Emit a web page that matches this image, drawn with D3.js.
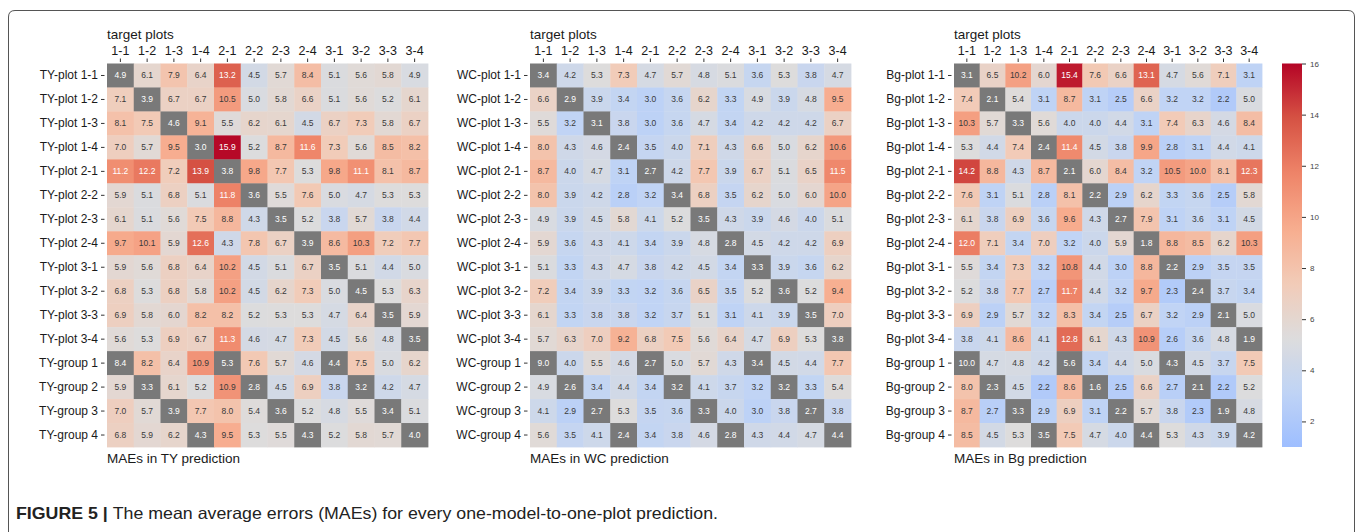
<!DOCTYPE html>
<html>
<head>
<meta charset="utf-8">
<script src="https://cdn.jsdelivr.net/npm/d3@7"></script>
<style>
  body { margin: 0; background: #fff; }
  svg { display: block; font-family: Arial, "Liberation Sans", Helvetica, sans-serif; }
</style>
</head>
<body>
<svg id="fig" width="1357" height="532"></svg>
<script>
// Target plots (columns) and prediction models (rows)
const targetPlots = ["1-1", "1-2", "1-3", "1-4", "2-1", "2-2", "2-3", "2-4", "3-1", "3-2", "3-3", "3-4"];
const sourceModels = ["plot 1-1", "plot 1-2", "plot 1-3", "plot 1-4", "plot 2-1", "plot 2-2", "plot 2-3", "plot 2-4",
                      "plot 3-1", "plot 3-2", "plot 3-3", "plot 3-4", "group 1", "group 2", "group 3", "group 4"];

// MAE of tree height (TY)
const tyMAE = [
  [4.9, 6.1, 7.9, 6.4, 13.2, 4.5, 5.7, 8.4, 5.1, 5.6, 5.8, 4.9],
  [7.1, 3.9, 6.7, 6.7, 10.5, 5.0, 5.8, 6.6, 5.1, 5.6, 5.2, 6.1],
  [8.1, 7.5, 4.6, 9.1, 5.5, 6.2, 6.1, 4.5, 6.7, 7.3, 5.8, 6.7],
  [7.0, 5.7, 9.5, 3.0, 15.9, 5.2, 8.7, 11.6, 7.3, 5.6, 8.5, 8.2],
  [11.2, 12.2, 7.2, 13.9, 3.8, 9.8, 7.7, 5.3, 9.8, 11.1, 8.1, 8.7],
  [5.9, 5.1, 6.8, 5.1, 11.8, 3.6, 5.5, 7.6, 5.0, 4.7, 5.3, 5.3],
  [6.1, 5.1, 5.6, 7.5, 8.8, 4.3, 3.5, 5.2, 3.8, 5.7, 3.8, 4.4],
  [9.7, 10.1, 5.9, 12.6, 4.3, 7.8, 6.7, 3.9, 8.6, 10.3, 7.2, 7.7],
  [5.9, 5.6, 6.8, 6.4, 10.2, 4.5, 5.1, 6.7, 3.5, 5.1, 4.4, 5.0],
  [6.8, 5.3, 6.8, 5.8, 10.2, 4.5, 6.2, 7.3, 5.0, 4.5, 5.3, 6.3],
  [6.9, 5.8, 6.0, 8.2, 8.2, 5.2, 5.3, 5.3, 4.7, 6.4, 3.5, 5.9],
  [5.6, 5.3, 6.9, 6.7, 11.3, 4.6, 4.7, 7.3, 4.5, 5.6, 4.8, 3.5],
  [8.4, 8.2, 6.4, 10.9, 5.3, 7.6, 5.7, 4.6, 4.4, 7.5, 5.0, 6.2],
  [5.9, 3.3, 6.1, 5.2, 10.9, 2.8, 4.5, 6.9, 3.8, 3.2, 4.2, 4.7],
  [7.0, 5.7, 3.9, 7.7, 8.0, 5.4, 3.6, 5.2, 4.8, 5.5, 3.4, 5.1],
  [6.8, 5.9, 6.2, 4.3, 9.5, 5.3, 5.5, 4.3, 5.2, 5.8, 5.7, 4.0]
];

// MAE of water content (WC)
const wcMAE = [
  [3.4, 4.2, 5.3, 7.3, 4.7, 5.7, 4.8, 5.1, 3.6, 5.3, 3.8, 4.7],
  [6.6, 2.9, 3.9, 3.4, 3.0, 3.6, 6.2, 3.3, 4.9, 3.9, 4.8, 9.5],
  [5.5, 3.2, 3.1, 3.8, 3.0, 3.6, 4.7, 3.4, 4.2, 4.2, 4.2, 6.7],
  [8.0, 4.3, 4.6, 2.4, 3.5, 4.0, 7.1, 4.3, 6.6, 5.0, 6.2, 10.6],
  [8.7, 4.0, 4.7, 3.1, 2.7, 4.2, 7.7, 3.9, 6.7, 5.1, 6.5, 11.5],
  [8.0, 3.9, 4.2, 2.8, 3.2, 3.4, 6.8, 3.5, 6.2, 5.0, 6.0, 10.0],
  [4.9, 3.9, 4.5, 5.8, 4.1, 5.2, 3.5, 4.3, 3.9, 4.6, 4.0, 5.1],
  [5.9, 3.6, 4.3, 4.1, 3.4, 3.9, 4.8, 2.8, 4.5, 4.2, 4.2, 6.9],
  [5.1, 3.3, 4.3, 4.7, 3.8, 4.2, 4.5, 3.4, 3.3, 3.9, 3.6, 6.2],
  [7.2, 3.4, 3.9, 3.3, 3.2, 3.6, 6.5, 3.5, 5.2, 3.6, 5.2, 9.4],
  [6.1, 3.3, 3.8, 3.8, 3.2, 3.7, 5.1, 3.1, 4.1, 3.9, 3.5, 7.0],
  [5.7, 6.3, 7.0, 9.2, 6.8, 7.5, 5.6, 6.4, 4.7, 6.9, 5.3, 3.8],
  [9.0, 4.0, 5.5, 4.6, 2.7, 5.0, 5.7, 4.3, 3.4, 4.5, 4.4, 7.7],
  [4.9, 2.6, 3.4, 4.4, 3.4, 3.2, 4.1, 3.7, 3.2, 3.2, 3.3, 5.4],
  [4.1, 2.9, 2.7, 5.3, 3.5, 3.6, 3.3, 4.0, 3.0, 3.8, 2.7, 3.8],
  [5.6, 3.5, 4.1, 2.4, 3.4, 3.8, 4.6, 2.8, 4.3, 4.4, 4.7, 4.4]
];

// MAE of biomass (Bg)
const bgMAE = [
  [3.1, 6.5, 10.2, 6.0, 15.4, 7.6, 6.6, 13.1, 4.7, 5.6, 7.1, 3.1],
  [7.4, 2.1, 5.4, 3.1, 8.7, 3.1, 2.5, 6.6, 3.2, 3.2, 2.2, 5.0],
  [10.3, 5.7, 3.3, 5.6, 4.0, 4.0, 4.4, 3.1, 7.4, 6.3, 4.6, 8.4],
  [5.3, 4.4, 7.4, 2.4, 11.4, 4.5, 3.8, 9.9, 2.8, 3.1, 4.4, 4.1],
  [14.2, 8.8, 4.3, 8.7, 2.1, 6.0, 8.4, 3.2, 10.5, 10.0, 8.1, 12.3],
  [7.6, 3.1, 5.1, 2.8, 8.1, 2.2, 2.9, 6.2, 3.3, 3.6, 2.5, 5.8],
  [6.1, 3.8, 6.9, 3.6, 9.6, 4.3, 2.7, 7.9, 3.1, 3.6, 3.1, 4.5],
  [12.0, 7.1, 3.4, 7.0, 3.2, 4.0, 5.9, 1.8, 8.8, 8.5, 6.2, 10.3],
  [5.5, 3.4, 7.3, 3.2, 10.8, 4.4, 3.0, 8.8, 2.2, 2.9, 3.5, 3.5],
  [5.2, 3.8, 7.7, 2.7, 11.7, 4.4, 3.2, 9.7, 2.3, 2.4, 3.7, 3.4],
  [6.9, 2.9, 5.7, 3.2, 8.3, 3.4, 2.5, 6.7, 3.2, 2.9, 2.1, 5.0],
  [3.8, 4.1, 8.6, 4.1, 12.8, 6.1, 4.3, 10.9, 2.6, 3.6, 4.8, 1.9],
  [10.0, 4.7, 4.8, 4.2, 5.6, 3.4, 4.4, 5.0, 4.3, 4.5, 3.7, 7.5],
  [8.0, 2.3, 4.5, 2.2, 8.6, 1.6, 2.5, 6.6, 2.7, 2.1, 2.2, 5.2],
  [8.7, 2.7, 3.3, 2.9, 6.9, 3.1, 2.2, 5.7, 3.8, 2.3, 1.9, 4.8],
  [8.5, 4.5, 5.3, 3.5, 7.5, 4.7, 4.0, 4.4, 5.3, 4.3, 3.9, 4.2]
];

const colorbarTicks = [2, 4, 6, 8, 10, 12, 14, 16];

// ---------- layout ----------
const svg = d3.select("#fig");
const gridTop = 63.5, gridBottom = 447;
const panels = [
  { prefix: "TY", values: tyMAE, x0: 107, x1: 428 },
  { prefix: "WC", values: wcMAE, x0: 530, x1: 851 },
  { prefix: "Bg", values: bgMAE, x0: 954, x1: 1262 }
];

// ---------- colour map: diverging cool-warm, centred on the neutral grey ----------
const coolwarmStops = ["#3b4cc0", "#5977e3", "#7b9ff9", "#9ebeff", "#c0d4f5", "#dddcdc",
                       "#f2cbb7", "#f7ac8e", "#ee8468", "#d65244", "#b40426"];
const vmin = 1, vmax = 16, center = 5.3;
const vrange = Math.max(vmax - center, center - vmin);
const color = d3.scaleSequential(d3.piecewise(d3.interpolateRgb, coolwarmStops))
  .domain([center - vrange, center + vrange]);
const sameTargetFill = "#797979";

function luminance(c) {
  const rgb = d3.rgb(c);
  const lin = v => { v /= 255; return v <= 0.03928 ? v / 12.92 : Math.pow((v + 0.055) / 1.055, 2.4); };
  return 0.2126 * lin(rgb.r) + 0.7152 * lin(rgb.g) + 0.0722 * lin(rgb.b);
}

// A model is "on target" when it was trained on the target plot itself,
// or when it is the group model that contains that plot.
function onTarget(model, target) {
  if (model.startsWith("plot ")) return model.slice(5) === target;
  return target.split("-")[1] === model.split(" ")[1];
}

// outer frame
svg.append("path")
  .attr("d", "M8.5,545 L8.5,17 Q8.5,10.5 15,10.5 L1348,10.5 Q1354.5,10.5 1354.5,17 L1354.5,545")
  .attr("fill", "none").attr("stroke", "#555").attr("stroke-width", 1);

panels.forEach(p => {
  const x = d3.scaleBand().domain(targetPlots).range([p.x0, p.x1]);
  const y = d3.scaleBand().domain(sourceModels).range([gridTop, gridBottom]);
  const g = svg.append("g");

  const cells = [];
  p.values.forEach((row, i) => row.forEach((v, j) => {
    const model = sourceModels[i], target = targetPlots[j];
    const fill = onTarget(model, target) ? sameTargetFill : color(v);
    cells.push({ model, target, v, fill });
  }));

  g.selectAll("rect.cell").data(cells).join("rect")
    .attr("class", "cell")
    .attr("x", d => x(d.target)).attr("y", d => y(d.model))
    .attr("width", x.bandwidth() + 0.4).attr("height", y.bandwidth() + 0.4)
    .attr("fill", d => d.fill);

  g.selectAll("text.val").data(cells).join("text")
    .attr("class", "val")
    .attr("x", d => x(d.target) + x.bandwidth() / 2)
    .attr("y", d => y(d.model) + y.bandwidth() / 2)
    .attr("dy", "0.35em")
    .attr("text-anchor", "middle")
    .attr("font-size", "8.5px")
    .attr("fill", d => luminance(d.fill) > 0.408 ? "#3a3a3a" : "#fff")
    .text(d => d.v.toFixed(1));

  // top axis: target plots
  const xAxis = g.append("g")
    .attr("transform", `translate(0,${gridTop - 1.5})`)
    .call(d3.axisTop(x).tickSize(3.5).tickPadding(3.5));
  xAxis.select(".domain").remove();
  xAxis.selectAll("text").attr("font-size", "12.5px").attr("fill", "#1a1a1a").attr("font-family", null);
  xAxis.selectAll("line").attr("stroke", "#333");

  // left axis: prediction models
  const yAxis = g.append("g")
    .attr("transform", `translate(${p.x0 - 2.5},0)`)
    .call(d3.axisLeft(y).tickSize(3.5).tickPadding(3).tickFormat(m => `${p.prefix}-${m}`));
  yAxis.select(".domain").remove();
  yAxis.selectAll("text").attr("font-size", "12px").attr("fill", "#1a1a1a").attr("font-family", null);
  yAxis.selectAll("line").attr("stroke", "#333");

  g.append("text").attr("x", p.x0).attr("y", 38.5)
    .attr("font-size", "13.5px").attr("fill", "#1a1a1a").text("target plots");
  g.append("text").attr("x", p.x0).attr("y", 463)
    .attr("font-size", "13.5px").attr("fill", "#1a1a1a").text(`MAEs in ${p.prefix} prediction`);
});

// ---------- colour bar ----------
const cbX = 1282, cbW = 20;
const cbScale = d3.scaleLinear().domain([vmin, vmax]).range([gridBottom, gridTop]);
const defs = svg.append("defs");
const grad = defs.append("linearGradient").attr("id", "cbGrad")
  .attr("x1", 0).attr("y1", 1).attr("x2", 0).attr("y2", 0);
d3.range(0, 1.0001, 0.02).forEach(t => {
  grad.append("stop").attr("offset", t).attr("stop-color", color(vmin + t * (vmax - vmin)));
});
svg.append("rect").attr("x", cbX).attr("y", gridTop).attr("width", cbW)
  .attr("height", gridBottom - gridTop).attr("fill", "url(#cbGrad)");
const cbAxis = svg.append("g").attr("transform", `translate(${cbX + cbW},0)`)
  .call(d3.axisRight(cbScale).tickValues(colorbarTicks).tickSize(4).tickPadding(4));
cbAxis.select(".domain").remove();
cbAxis.selectAll("text").attr("font-size", "8px").attr("fill", "#444").attr("font-family", null);
cbAxis.selectAll("line").attr("stroke", "#333");

// ---------- caption ----------
const cap = svg.append("text").attr("x", 16).attr("y", 518.5)
  .attr("font-size", "16.5px").attr("fill", "#222")
  .attr("textLength", 702).attr("lengthAdjust", "spacingAndGlyphs");
cap.append("tspan").attr("font-weight", "bold").text("FIGURE 5 | ");
cap.append("tspan").text("The mean average errors (MAEs) for every one-model-to-one-plot prediction.");
</script>
</body>
</html>
